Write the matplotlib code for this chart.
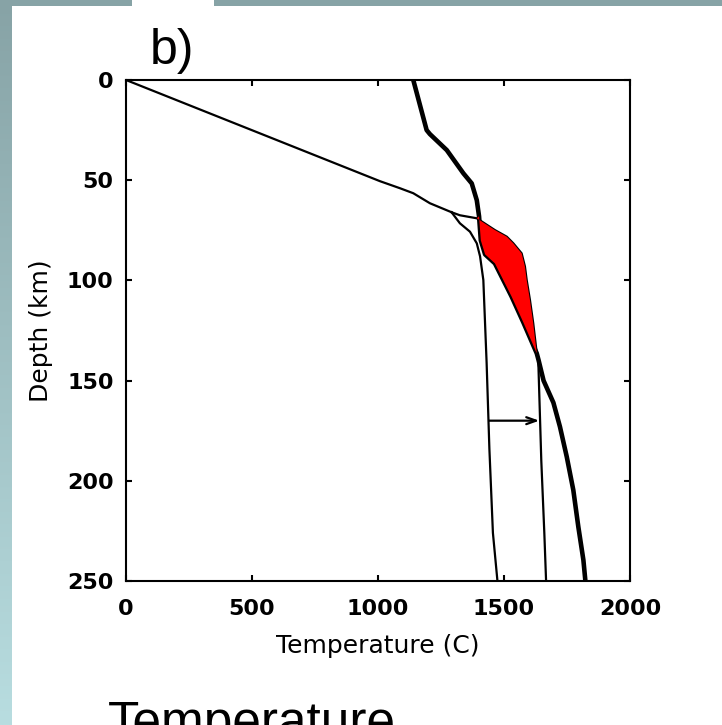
import numpy as np
import matplotlib
matplotlib.use("Agg")
import matplotlib.pyplot as plt
from matplotlib.patches import Rectangle

# ---------------- data ----------------
# conductive part shared by both geotherms (T in C, depth in km)
cond_T = [0, 1008, 1087, 1140, 1206, 1292]
cond_z = [0, 50.5, 54, 56.5, 61.5, 66]

# normal geotherm bending into the cooler adiabat
cold_T = [1292, 1325, 1365, 1392, 1405, 1418, 1431, 1442, 1456, 1474]
cold_z = [66, 71.5, 75.7, 81.5, 88, 99.8, 141, 184, 226, 250]

# hot (plume) geotherm
hot_T = [1292, 1325, 1392, 1464, 1511, 1537, 1570, 1583, 1590, 1603, 1616, 1630, 1636, 1648, 1660, 1667]
hot_z = [66, 67.5, 69, 74.9, 78.2, 81.5, 86.5, 93, 99.8, 109.8, 121.4, 136.4, 140, 190, 226, 250]

# solidus (thick line)
sol_T = [1140, 1193, 1206, 1273, 1339, 1372, 1392, 1401, 1408, 1425, 1464, 1530, 1577, 1630,
         1637, 1657, 1696, 1722, 1749, 1775, 1795, 1815, 1823]
sol_z = [0, 25, 27, 35, 46.6, 51.6, 60, 68, 80, 87, 91.5, 108, 121, 136.4,
         139.7, 150, 161, 173, 188, 204.6, 223, 239.5, 250]

# melt region: hot geotherm (index 2..11) and solidus (index 7..13)
melt_hot_idx = (2, 12)
melt_sol_idx = (7, 14)

# arrow: increase of temperature at 170 km
arrow_z = 170
arrow_T0 = 1441
arrow_T1 = 1640

xticks = [0, 500, 1000, 1500, 2000]
yticks = [0, 50, 100, 150, 200, 250]

# ---------------- figure ----------------
W, H = 722, 725
fig = plt.figure(figsize=(W / 100, H / 100), dpi=100)
fig.patch.set_facecolor("white")

# slide decoration: left gradient strip and top bar
strip = fig.add_axes([0, 0, 12 / W, 1])
grad = np.linspace(0, 1, 256).reshape(-1, 1)
c_top = np.array([0x87, 0xa3, 0xa6]) / 255
c_bot = np.array([0xb8, 0xdd, 0xe0]) / 255
img = c_top[None, None, :] * (1 - grad[:, :, None]) + c_bot[None, None, :] * grad[:, :, None]
strip.imshow(img, aspect="auto", extent=[0, 1, 0, 1], origin="upper")
strip.axis("off")
fig.patches.append(Rectangle((0, 1 - 6 / H), 132 / W, 6 / H, transform=fig.transFigure,
                             facecolor="#87a3a6", edgecolor="none"))
fig.patches.append(Rectangle((214 / W, 1 - 6 / H), 1 - 214 / W, 6 / H, transform=fig.transFigure,
                             facecolor="#87a3a6", edgecolor="none"))

ax = fig.add_axes([126 / W, 1 - 581 / H, 504 / W, 501 / H])

thin = 1.6
thick = 3.3
ax.plot(cond_T, cond_z, color="black", lw=thin, zorder=2)
ax.plot(cold_T, cold_z, color="black", lw=thin, zorder=2)
ax.plot(hot_T, hot_z, color="black", lw=thin, zorder=2)
ax.plot(sol_T, sol_z, color="black", lw=thick, zorder=2, solid_capstyle="butt")

a, b = melt_hot_idx
c, d = melt_sol_idx
poly_T = hot_T[a:b] + sol_T[c:d][::-1]
poly_z = hot_z[a:b] + sol_z[c:d][::-1]
ax.fill(poly_T, poly_z, color="#ff0000", lw=0, zorder=3)

ax.annotate("", xy=(arrow_T1, arrow_z), xytext=(arrow_T0, arrow_z),
            arrowprops=dict(arrowstyle="->,head_length=0.7,head_width=0.25",
                            color="black", lw=1.6, shrinkA=0, shrinkB=0), zorder=4)

ax.set_xlim(0, 2000)
ax.set_ylim(250, 0)
ax.set_xticks(xticks)
ax.set_yticks(yticks)
ax.set_xticklabels([str(v) for v in xticks])
ax.set_yticklabels([str(v) for v in yticks])
for s in ax.spines.values():
    s.set_linewidth(1.5)
ax.tick_params(direction="in", length=4, width=1.5, top=True, right=True,
               labelsize=16, pad=9)
for lab in ax.get_xticklabels() + ax.get_yticklabels():
    lab.set_fontweight("bold")
    lab.set_family("DejaVu Sans")
ax.tick_params(axis="x", pad=13)

ax.set_xlabel("Temperature (C)", fontsize=18, family="DejaVu Sans")
ax.xaxis.set_label_coords(0.5, -0.105)
ax.set_ylabel("Depth (km)", fontsize=18, family="DejaVu Sans", va="center")
ax.yaxis.set_label_coords(-0.169, 0.5)

fig.text(150 / W, 1 - 64 / H, "b)", fontsize=36, family="Liberation Sans",
         ha="left", va="baseline")
fig.text(108 / W, 1 - 738 / H, "Temperature", fontsize=37, family="Liberation Sans",
         ha="left", va="baseline")

fig.savefig("out.png", dpi=100)
